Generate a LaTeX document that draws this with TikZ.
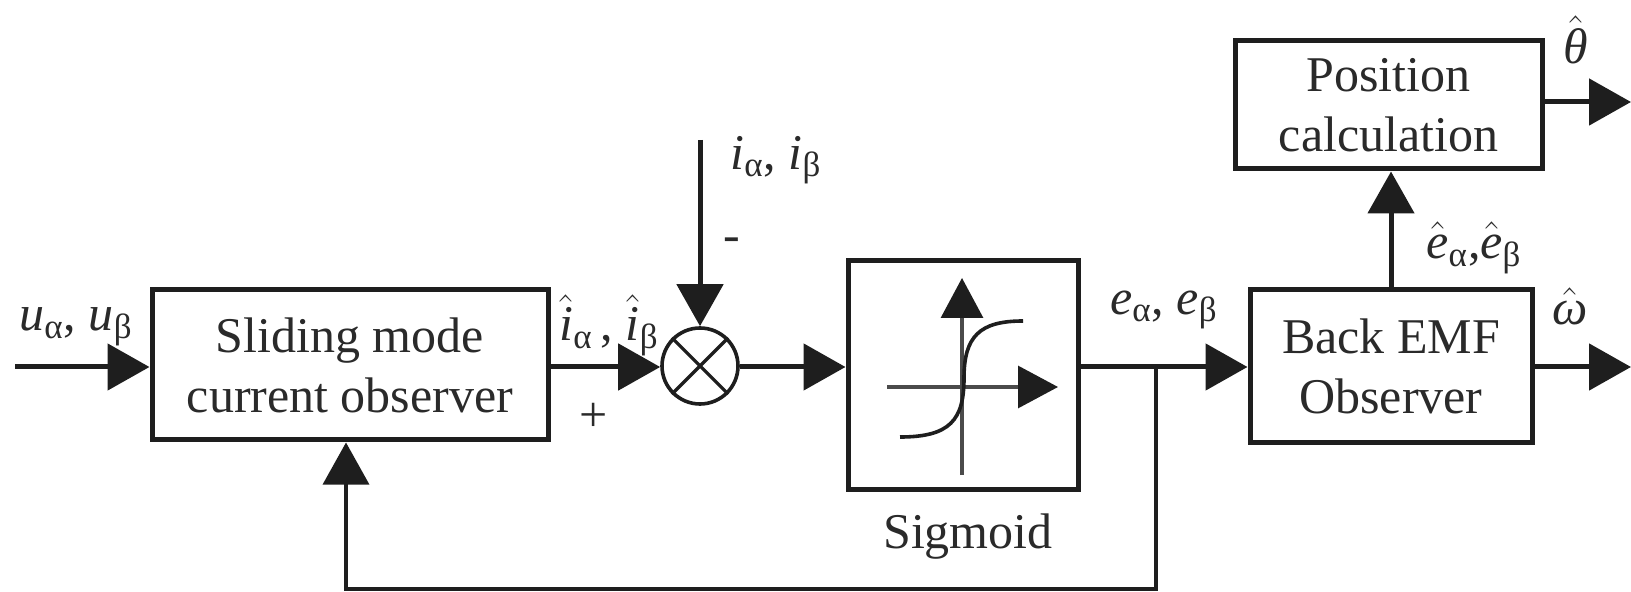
\documentclass[tikz,border=0pt]{standalone}
\usepackage{fix-cm}
\usepackage{amsmath}
\usepackage{fontspec}
\setmainfont{Liberation Serif}
\usetikzlibrary{arrows.meta}
\definecolor{ln}{HTML}{1E1E1E}
\definecolor{txt}{HTML}{2A2A2A}
\begin{document}
\begin{tikzpicture}[x=0.5pt,y=-0.5pt,
  every node/.style={font=\fontsize{25}{30}\selectfont, text=txt},
  blk/.style={draw=ln, line width=2.5pt, fill=white, align=center, inner sep=0pt},
  conn/.style={draw=ln, line width=2.5pt, -{Triangle[length=21pt,width=23pt]}},
  fbconn/.style={draw=ln, line width=1.6pt, -{Triangle[length=21pt,width=23pt]}},
  axis/.style={draw=ln!80, line width=1.6pt, -{Triangle[length=20pt,width=21pt,color=ln]}},
  lbl/.style={inner sep=0pt}
]
\useasboundingbox (0,0) rectangle (1631,592);

% blocks
\node[blk, minimum width=198pt, minimum height=75pt] (smo) at (350,365) {Sliding mode\\current observer};
\node[draw=ln, line width=1.8pt, circle, minimum size=38pt, inner sep=0pt] (sum) at (700,366) {};
\draw[ln, line width=1.6pt] (sum.45) -- (sum.225) (sum.135) -- (sum.315);
\node[blk, minimum width=115pt, minimum height=114pt] (sig) at (963,375) {};
\node[blk, minimum width=141pt, minimum height=76.5pt] (bemf) at (1391,366.5) {Back EMF\\Observer};
\node[blk, minimum width=153.5pt, minimum height=64pt] (pos) at (1388.5,105) {Position\\calculation};

% sigmoid symbol
\coordinate (vb) at (962,475);
\coordinate (vt) at (962,278);
\coordinate (hl) at (887,387);
\coordinate (hr) at (1058,387);
\draw[axis] (vb) -- (vt);
\draw[axis] (hl) -- (hr);
\draw[ln, line width=1.8pt] (900,437) .. controls (950,437) and (964,420) .. (964,378)
  .. controls (964,336) and (980,321) .. (1023,321);
\node[lbl] (siglbl) at (968,537) {Sigmoid};

% coordinates
\coordinate (in) at (15,367);
\coordinate (itop) at (700,140);
\coordinate (j) at (1156,367);
\coordinate (fb) at (346,589);
\coordinate (thout) at (1631,102);
\coordinate (omout) at (1631,367);

% connectors
\draw[conn] (in) -- (in -| smo.west);
\draw[conn] (smo.east |- in) -- (sum.west |- in);
\draw[conn] (itop) -- (sum.north);
\draw[conn] (sum.east |- in) -- (sig.west |- in);
\draw[conn] (sig.east |- in) -- (bemf.west |- in);
\draw[fbconn] (j) |- (fb) -- (fb |- smo.south);
\draw[conn] (bemf.north) -- (bemf.north |- pos.south);
\draw[conn] (pos.east |- thout) -- (thout);
\draw[conn] (bemf.east |- omout) -- (omout);

% labels
\node[lbl] (lu) at (76,327) {$\textit{u}_{\text{α}}$, $\textit{u}_{\text{β}}$};
\node[lbl] (lih) at (609,325) {$\hat{\textit{i}}_{\text{α}}\,$, $\hat{\textit{i}}_{\text{β}}$};
\node[lbl] (lplus) at (594,417) {+};
\node[lbl] (li) at (776,160) {$\textit{i}_{\text{α}}$, $\textit{i}_{\text{β}}$};
\node[lbl] (lminus) at (732,245) {-};
\node[lbl] (le) at (1164,310) {$\textit{e}_{\text{α}}$, $\textit{e}_{\text{β}}$};
\node[lbl] (leh) at (1474,248) {$\hat{\textit{e}}_{\text{α}}$,$\hat{\textit{e}}_{\text{β}}$};
\node[lbl] (lth) at (1576,40) {$\hat{\textit{θ}}$};
\node[lbl] (lom) at (1570,306) {$\hat{\textit{ω}}$};
\end{tikzpicture}
\end{document}
